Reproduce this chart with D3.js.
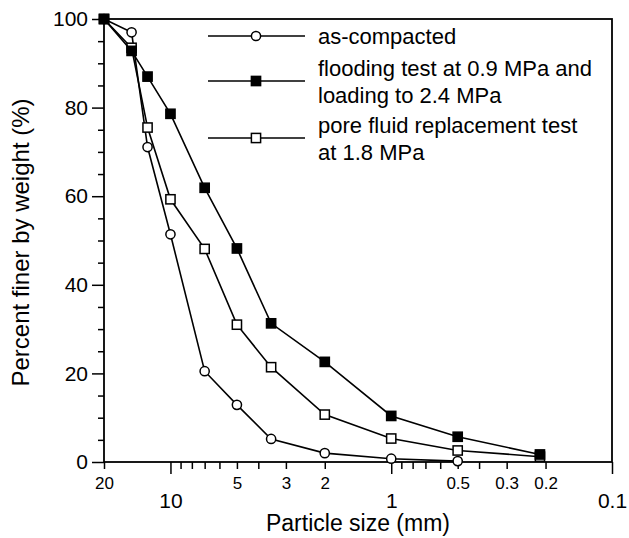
<!DOCTYPE html>
<html>
<head>
<meta charset="utf-8">
<script src="https://cdn.jsdelivr.net/npm/d3@7"></script>
<style>
  body { margin: 0; background: #fff; }
  svg { display: block; font-family: "Liberation Sans", Arial, sans-serif; }
  .tick line { stroke: #000; stroke-width: 1.5; }
  .tick text { fill: #000; }
</style>
</head>
<body>
<div id="chart"></div>
<script>
const WIDTH = 629;
const HEIGHT = 538;
const MARGIN = { top: 19, right: 17, bottom: 76, left: 104 };

// sieve sizes (mm)
const sizes = [20, 15, 12.7, 10, 7, 5, 3.5, 2, 1, 0.5, 0.212];
const asCompacted = [100, 97.0, 71.1, 51.4, 20.5, 12.9, 5.2, 2.0, 0.75, 0.2];
const flooding = [100, 92.8, 87.0, 78.6, 61.9, 48.2, 31.3, 22.6, 10.4, 5.7, 1.7];
const replacement = [100, 93.5, 75.5, 59.3, 48.1, 31.0, 21.4, 10.7, 5.3, 2.6, 1.2];

const yMajor = [0, 20, 40, 60, 80, 100];
const yMinor = [5, 10, 15, 25, 30, 35, 45, 50, 55, 65, 70, 75, 85, 90, 95];
const xMajor = [10, 1, 0.1];
const xMinor = [20, 9, 8, 7, 6, 5, 4, 3, 2, 0.9, 0.8, 0.7, 0.6, 0.5, 0.4, 0.3, 0.2];
const xSmallLabels = [20, 5, 3, 2, 0.5, 0.3, 0.2];
const xBigLabels = [10, 1, 0.1];

const series = [
  { name: "as-compacted", lines: ["as-compacted"], values: asCompacted, shape: "circle", fill: "#fff" },
  { name: "replacement", lines: ["pore fluid replacement test", "at 1.8 MPa"], values: replacement, shape: "square", fill: "#fff" },
  { name: "flooding", lines: ["flooding test at 0.9 MPa and", "loading to 2.4 MPa"], values: flooding, shape: "square", fill: "#000" },
];
const legendOrder = ["as-compacted", "flooding", "replacement"];

const svg = d3.select("#chart").append("svg").attr("width", WIDTH).attr("height", HEIGHT);

const x = d3.scaleLog().domain([20, 0.1]).range([MARGIN.left, WIDTH - MARGIN.right]);
const y = d3.scaleLinear().domain([0, 100]).range([HEIGHT - MARGIN.bottom, MARGIN.top]);
const bottom = HEIGHT - MARGIN.bottom;

// y axis
svg.append("g").attr("transform", `translate(${MARGIN.left},0)`)
  .call(d3.axisLeft(y).tickValues(yMajor).tickSizeInner(12).tickSizeOuter(0).tickPadding(4).tickFormat(d3.format("d")))
  .call((g) => g.select(".domain").remove())
  .selectAll("text").style("font-size", "21px");
svg.append("g").attr("transform", `translate(${MARGIN.left},0)`)
  .call(d3.axisLeft(y).tickValues(yMinor).tickSizeInner(6).tickSizeOuter(0).tickFormat(""))
  .call((g) => g.select(".domain").remove());

// x axis ticks
svg.append("g").attr("transform", `translate(0,${bottom})`)
  .call(d3.axisBottom(x).tickValues(xMajor).tickSizeInner(12).tickSizeOuter(0).tickFormat(""))
  .call((g) => g.select(".domain").remove());
svg.append("g").attr("transform", `translate(0,${bottom})`)
  .call(d3.axisBottom(x).tickValues(xMinor).tickSizeInner(7).tickSizeOuter(0).tickFormat(""))
  .call((g) => g.select(".domain").remove());

// x labels, two rows
svg.append("g").attr("transform", `translate(0,${bottom})`)
  .call(d3.axisBottom(x).tickValues(xSmallLabels).tickSize(0).tickPadding(15).tickFormat((d) => String(d)))
  .call((g) => g.select(".domain").remove())
  .selectAll("text").style("font-size", "17px");
svg.append("g").attr("transform", `translate(0,${bottom})`)
  .call(d3.axisBottom(x).tickValues(xBigLabels).tickSize(0).tickPadding(31).tickFormat((d) => String(d)))
  .call((g) => g.select(".domain").remove())
  .selectAll("text").style("font-size", "21px");

// frame
svg.append("rect")
  .attr("x", MARGIN.left).attr("y", MARGIN.top)
  .attr("width", WIDTH - MARGIN.left - MARGIN.right)
  .attr("height", bottom - MARGIN.top)
  .attr("fill", "none").attr("stroke", "#000").attr("stroke-width", 1.8);

// axis titles
svg.append("text")
  .attr("x", (MARGIN.left + WIDTH - MARGIN.right) / 2)
  .attr("y", 531)
  .attr("text-anchor", "middle")
  .style("font-size", "23px")
  .text("Particle size (mm)");
svg.append("text")
  .attr("transform", `translate(29,${(MARGIN.top + bottom) / 2 + 2}) rotate(-90)`)
  .attr("text-anchor", "middle")
  .style("font-size", "24px")
  .text("Percent finer by weight (%)");

const line = d3.line().x((d) => x(d.size)).y((d) => y(d.value));

function drawMarker(sel, shape, fill) {
  if (shape === "circle") {
    sel.append("circle").attr("r", 4.6);
  } else {
    sel.append("rect").attr("x", -4.6).attr("y", -4.6).attr("width", 9.2).attr("height", 9.2);
  }
  sel.selectAll("circle,rect").attr("fill", fill).attr("stroke", "#000").attr("stroke-width", 1.5);
}

series.forEach((s) => {
  const pts = s.values.map((v, i) => ({ size: sizes[i], value: v }));
  svg.append("path").datum(pts)
    .attr("d", line)
    .attr("fill", "none").attr("stroke", "#000").attr("stroke-width", 1.6);
  svg.append("g").selectAll("g").data(pts).join("g")
    .attr("transform", (d) => `translate(${x(d.size)},${y(d.value)})`)
    .each(function () { drawMarker(d3.select(this), s.shape, s.fill); });
});

// legend
const legendRows = [36, 81, 138];
legendOrder.forEach((name, i) => {
  const s = series.find((d) => d.name === name);
  const g = svg.append("g").attr("transform", `translate(0,${legendRows[i]})`);
  g.append("line").attr("x1", 208).attr("x2", 305).attr("stroke", "#000").attr("stroke-width", 1.6);
  drawMarker(g.append("g").attr("transform", "translate(256,0)"), s.shape, s.fill);
  const n = s.lines.length;
  s.lines.forEach((t, j) => {
    g.append("text")
      .attr("x", 318)
      .attr("y", 8 + (j - (n - 1) / 2) * 27)
      .style("font-size", "22px")
      .text(t);
  });
});
</script>
</body>
</html>
